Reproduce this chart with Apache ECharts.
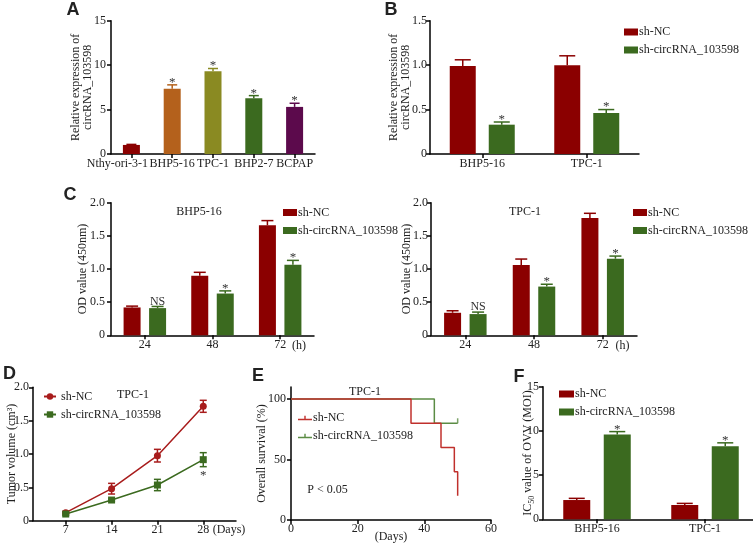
<!DOCTYPE html>
<html><head><meta charset="utf-8">
<script src="https://cdn.jsdelivr.net/npm/echarts@6/dist/echarts.min.js"></script>
<style>html,body{margin:0;padding:0;background:#fff}#c{width:753px;height:547px}</style>
</head><body><div id="c"></div>
<script>
// ---------- DATA ----------
// Panel A
const catA = ['Nthy-ori-3-1', 'BHP5-16', 'TPC-1', 'BHP2-7', 'BCPAP'];
const valA = [1.02, 7.35, 9.3, 6.28, 5.3];
const errA = [1.08, 7.78, 9.62, 6.57, 5.71];
const sigA = ['', '*', '*', '*', '*'];
// Panel B
const catB = ['BHP5-16', 'TPC-1'];
const ncB = [0.99, 1.0];
const ncErrB = [1.06, 1.105];
const shB = [0.33, 0.46];
const shErrB = [0.36, 0.50];
const sigB = ['*', '*'];
// Panel C
const catC = ['24', '48', '72'];
const ncC1 = [0.42, 0.90, 1.66];
const ncErrC1 = [0.44, 0.95, 1.73];
const shC1 = [0.41, 0.63, 1.065];
const shErrC1 = [0.435, 0.67, 1.13];
const sigC1 = ['NS', '*', '*'];
const ncC2 = [0.34, 1.06, 1.77];
const ncErrC2 = [0.37, 1.15, 1.84];
const shC2 = [0.32, 0.735, 1.155];
const shErrC2 = [0.35, 0.77, 1.195];
const sigC2 = ['NS', '*', '*'];
// Panel D
const daysD = [7, 14, 21, 28];
const ncD = [0.12, 0.48, 0.975, 1.715];
const ncSdD = [0.02, 0.08, 0.095, 0.09];
const shD = [0.10, 0.31, 0.535, 0.915];
const shSdD = [0.02, 0.015, 0.085, 0.105];
const sigD = ['', '', '', '*'];
// Panel E (Kaplan-Meier)
const ncTimeE = [0, 36, 45, 49, 50];
const ncSurvE = [100, 80, 60, 40, 20];
const shTimeE = [0, 43, 50];
const shSurvE = [100, 80, 80];
const censorE = [[50, 80]];
const ticksE = [0, 50, 100];
// Panel F
const catF = ['BHP5-16', 'TPC-1'];
const ncF = [2.18, 1.62];
const ncErrF = [2.37, 1.80];
const shF = [9.59, 8.27];
const shErrF = [9.92, 8.65];
const sigF = ['*', '*'];

// ---------- STYLE ----------
const SERIF = '"Liberation Serif","Times New Roman",serif';
const SANS = '"Liberation Sans",Arial,sans-serif';
const RED = '#8b0000', GREEN = '#3b6a1f';
const colA = ['#8b0000', '#b4611c', '#8a8a22', '#3b6a1f', '#5c0a4c'];
const RED_D = '#a81c1c', GREEN_D = '#3b6a1f';
const RED_E = '#c0302c', GREEN_E = '#5b8c44';
const AX = '#000', TXT = '#222';
const f1 = v => v === 0 ? '0' : v.toFixed(1);

function catX(gi, cats, extra) {
  return Object.assign({
    type: 'category', gridIndex: gi, data: cats,
    axisLine: {lineStyle: {color: AX, width: 1.5}},
    axisTick: {show: true, alignWithLabel: true, length: 4, lineStyle: {color: AX, width: 1.5}},
    axisLabel: {interval: 0, margin: 4, color: TXT, fontFamily: SERIF, fontSize: 12},
    splitLine: {show: false}
  }, extra || {});
}
function valY(gi, max, interval, name, nameGap, fmt, margin, extra) {
  return Object.assign({
    type: 'value', gridIndex: gi, min: 0, max: max, interval: interval,
    name: name, nameLocation: 'middle', nameGap: nameGap, nameMoveOverlap: false,
    nameTextStyle: {fontFamily: SERIF, fontSize: 12, color: TXT, lineHeight: 12},
    axisLine: {show: true, lineStyle: {color: AX, width: 1.5}},
    axisTick: {show: true, length: 4, lineStyle: {color: AX, width: 1.5}},
    axisLabel: {margin: margin, color: TXT, fontFamily: SERIF, fontSize: 12, formatter: fmt},
    splitLine: {show: false}
  }, extra || {});
}
function errSeries(gi, vals, tops, sigs, colors, offset, capW) {
  return {
    type: 'custom', xAxisIndex: gi, yAxisIndex: gi, z: 5,
    data: vals.map((v, i) => [i, v, tops[i]]),
    renderItem: function (params, api) {
      const i = params.dataIndex;
      const b = api.coord([api.value(0), api.value(1)]);
      const t = api.coord([api.value(0), api.value(2)]);
      const x = b[0] + offset;
      const col = Array.isArray(colors) ? colors[i] : colors;
      const ls = {stroke: col, lineWidth: 1.5};
      const ch = [
        {type: 'line', shape: {x1: x, y1: b[1], x2: x, y2: t[1]}, style: ls},
        {type: 'line', shape: {x1: x - capW / 2, y1: t[1], x2: x + capW / 2, y2: t[1]}, style: ls}
      ];
      const s = sigs[i];
      if (s) {
        ch.push({type: 'text', style: {text: s, x: x, y: s === '*' ? t[1] + 4 : t[1] + 1,
          textAlign: 'center', textVerticalAlign: 'bottom',
          font: (s === '*' ? '13px ' : '12px ') + SERIF, fill: '#333'}});
      }
      return {type: 'group', children: ch};
    }
  };
}
function errXY(gi, xs, ys, sds, sigs, color) {
  return {
    type: 'custom', xAxisIndex: gi, yAxisIndex: gi, z: 5,
    data: xs.map((x, i) => [x, ys[i], sds[i]]),
    renderItem: function (params, api) {
      const i = params.dataIndex;
      const hi = api.coord([api.value(0), api.value(1) + api.value(2)]);
      const lo = api.coord([api.value(0), api.value(1) - api.value(2)]);
      const x = hi[0];
      const ls = {stroke: color, lineWidth: 1.5};
      const ch = [
        {type: 'line', shape: {x1: x, y1: lo[1], x2: x, y2: hi[1]}, style: ls},
        {type: 'line', shape: {x1: x - 3.5, y1: hi[1], x2: x + 3.5, y2: hi[1]}, style: ls},
        {type: 'line', shape: {x1: x - 3.5, y1: lo[1], x2: x + 3.5, y2: lo[1]}, style: ls}
      ];
      if (sigs[i]) ch.push({type: 'text', style: {text: sigs[i], x: x, y: lo[1] + 2,
        textAlign: 'center', textVerticalAlign: 'top', font: '13px ' + SERIF, fill: '#333'}});
      return {type: 'group', children: ch};
    }
  };
}
function barS(name, gi, vals, color, width) {
  return {type: 'bar', name: name, xAxisIndex: gi, yAxisIndex: gi, data: vals,
    barWidth: width, barGap: '50%', itemStyle: {color: color}};
}
const legText = {fontFamily: SERIF, fontSize: 12, color: TXT};
function leg(names, left, top, extra) {
  return Object.assign({
    data: names, left: left, top: top, orient: 'vertical', itemGap: 6,
    itemWidth: 14, itemHeight: 7, icon: 'rect', selectedMode: false, padding: 0,
    textStyle: Object.assign({padding: [0, 0, 0, -4]}, legText),
    formatter: n => n.split('|')[0]
  }, extra || {});
}
const gridBase = {outerBoundsMode: 'none', containLabel: false};
function grid(l, t, w, h) { return Object.assign({left: l, top: t, width: w, height: h}, gridBase); }
function label(text, x, y, font) {
  return {type: 'text', x: x, y: y, silent: true,
    style: {text: text, font: font || ('12px ' + SERIF), fill: TXT, textAlign: 'center', textVerticalAlign: 'middle'}};
}
const LETTER = 'bold 18px ' + SANS;

const nameAB = 'Relative expression of\ncircRNA_103598';

const option = {
  backgroundColor: '#fff',
  animation: false,
  grid: [
    grid(111, 20.7, 204, 133.3),   // A
    grid(430, 20.7, 209, 133.3),   // B
    grid(111, 202.7, 203, 132.6),  // C left
    grid(431, 202.7, 206, 132.6),  // C right
    grid(33, 387.3, 203, 133.4),   // D
    grid(291, 387, 200, 133),      // E
    grid(543, 386.7, 216, 132.6)   // F
  ],
  xAxis: [
    catX(0, catA.map((c, i) => i === 0 ? {value: c, textStyle: {padding: [0, 28, 0, 0]}} : c)),
    catX(1, catB),
    catX(2, catC),
    catX(3, catC),
    {type: 'value', gridIndex: 4, min: 2, max: 33,
      axisLine: {lineStyle: {color: AX, width: 1.5}},
      axisTick: {show: true, length: 4, customValues: daysD, lineStyle: {color: AX, width: 1.5}},
      axisLabel: {margin: 3, color: TXT, fontFamily: SERIF, fontSize: 12, customValues: daysD},
      splitLine: {show: false}},
    {type: 'value', gridIndex: 5, min: 0, max: 60, interval: 20,
      name: '(Days)', nameLocation: 'middle', nameGap: 11, nameMoveOverlap: false,
      nameTextStyle: {fontFamily: SERIF, fontSize: 12, color: TXT},
      axisLine: {lineStyle: {color: AX, width: 1.5}},
      axisTick: {show: true, length: 4, lineStyle: {color: AX, width: 1.5}},
      axisLabel: {margin: 3, color: TXT, fontFamily: SERIF, fontSize: 12},
      splitLine: {show: false}},
    catX(6, catF)
  ],
  yAxis: [
    valY(0, 15, 5, nameAB, 17, null, 5),
    valY(1, 1.5, 0.5, nameAB, 18.5, f1, 3),
    valY(2, 2, 0.5, 'OD value (450nm)', 22, f1, 6),
    valY(3, 2, 0.5, 'OD value (450nm)', 18.5, f1, 3),
    valY(4, 2, 0.5, 'Tumor volume (cm³)', 15, f1, 4),
    valY(5, 110, null, 'Overall survival (%)', 23, null, 5, {
      axisTick: {show: true, length: 4, customValues: ticksE, lineStyle: {color: AX, width: 1.5}},
      axisLabel: {margin: 5, color: TXT, fontFamily: SERIF, fontSize: 12, customValues: ticksE}
    }),
    valY(6, 15, 5, '{n|IC}{s|50}{n| value of OVV (MOI)}', 7, null, 4, {
      nameTextStyle: {rich: {
        n: {fontFamily: SERIF, fontSize: 12, color: TXT, lineHeight: 16, verticalAlign: 'middle'},
        s: {fontFamily: SERIF, fontSize: 8, color: TXT, lineHeight: 16, verticalAlign: 'bottom'}
      }}
    })
  ],
  legend: [
    leg(['sh-NC|B', 'sh-circRNA_103598|B'], 624, 26),
    leg(['sh-NC|C1', 'sh-circRNA_103598|C1'], 283, 206.5),
    leg(['sh-NC|C2', 'sh-circRNA_103598|C2'], 633, 206.5),
    leg(['sh-NC|D', 'sh-circRNA_103598|D'], 43, 390.5, {icon: null, itemWidth: 12, itemHeight: 8,
      textStyle: Object.assign({}, legText)}),
    leg(['sh-NC|E', 'sh-circRNA_103598|E'], 298, 412, {itemHeight: 6,
      icon: 'path://M0,4L14,4L14,5.5L0,5.5Z M6.3,1L7.7,1L7.7,5.5L6.3,5.5Z'}),
    leg(['sh-NC|F', 'sh-circRNA_103598|F'], 559, 388, {itemWidth: 15})
  ],
  series: [
    // A
    {type: 'bar', xAxisIndex: 0, yAxisIndex: 0, barWidth: 17,
      data: valA.map((v, i) => ({value: v, itemStyle: {color: colA[i]}}))},
    errSeries(0, valA, errA, sigA, colA, 0, 10),
    // B
    barS('sh-NC|B', 1, ncB, RED, 26),
    barS('sh-circRNA_103598|B', 1, shB, GREEN, 26),
    errSeries(1, ncB, ncErrB, ['', ''], RED, -19.5, 16),
    errSeries(1, shB, shErrB, sigB, GREEN, 19.5, 16),
    // C left
    barS('sh-NC|C1', 2, ncC1, RED, 17),
    barS('sh-circRNA_103598|C1', 2, shC1, GREEN, 17),
    errSeries(2, ncC1, ncErrC1, ['', '', ''], RED, -12.75, 12),
    errSeries(2, shC1, shErrC1, sigC1, GREEN, 12.75, 12),
    // C right
    barS('sh-NC|C2', 3, ncC2, RED, 17),
    barS('sh-circRNA_103598|C2', 3, shC2, GREEN, 17),
    errSeries(3, ncC2, ncErrC2, ['', '', ''], RED, -12.75, 12),
    errSeries(3, shC2, shErrC2, sigC2, GREEN, 12.75, 12),
    // D
    {type: 'line', name: 'sh-NC|D', xAxisIndex: 4, yAxisIndex: 4,
      data: daysD.map((d, i) => [d, ncD[i]]), symbol: 'circle', symbolSize: 7,
      itemStyle: {color: RED_D}, lineStyle: {color: RED_D, width: 1.5}, z: 6},
    {type: 'line', name: 'sh-circRNA_103598|D', xAxisIndex: 4, yAxisIndex: 4,
      data: daysD.map((d, i) => [d, shD[i]]), symbol: 'rect', symbolSize: 7,
      itemStyle: {color: GREEN_D}, lineStyle: {color: GREEN_D, width: 1.5}, z: 6},
    errXY(4, daysD, ncD, ncSdD, ['', '', '', ''], RED_D),
    errXY(4, daysD, shD, shSdD, sigD, GREEN_D),
    // E
    {type: 'line', name: 'sh-NC|E', xAxisIndex: 5, yAxisIndex: 5, step: 'end', symbol: 'none',
      data: ncTimeE.map((t, i) => [t, ncSurvE[i]]),
      itemStyle: {color: RED_E}, lineStyle: {color: RED_E, width: 1.5}, z: 4},
    {type: 'line', name: 'sh-circRNA_103598|E', xAxisIndex: 5, yAxisIndex: 5, step: 'end', symbol: 'none',
      data: shTimeE.map((t, i) => [t, shSurvE[i]]),
      itemStyle: {color: GREEN_E}, lineStyle: {color: GREEN_E, width: 1.5}, z: 3},
    {type: 'scatter', xAxisIndex: 5, yAxisIndex: 5, data: censorE, symbol: 'rect',
      symbolSize: [1.5, 5], symbolOffset: [0, -2.5], itemStyle: {color: GREEN_E}, z: 4},
    // F
    barS('sh-NC|F', 6, ncF, RED, 27),
    barS('sh-circRNA_103598|F', 6, shF, GREEN, 27),
    errSeries(6, ncF, ncErrF, ['', ''], RED, -20.25, 16),
    errSeries(6, shF, shErrF, sigF, GREEN, 20.25, 16)
  ],
  graphic: [
    label('A', 73, 10.5, LETTER),
    label('B', 391, 10, LETTER),
    label('C', 70, 195, LETTER),
    label('D', 9.5, 374, LETTER),
    label('E', 258, 376, LETTER),
    label('F', 519, 377.5, LETTER),
    label('BHP5-16', 199, 212),
    label('TPC-1', 525, 212.3),
    label('(h)', 299, 345.5),
    label('(h)', 622.5, 345.5),
    label('TPC-1', 133, 395),
    label('(Days)', 229, 530),
    label('TPC-1', 365, 392),
    label('P < 0.05', 327.5, 490)
  ]
};
const chart = echarts.init(document.getElementById('c'));
chart.setOption(option);
</script>
</body></html>
